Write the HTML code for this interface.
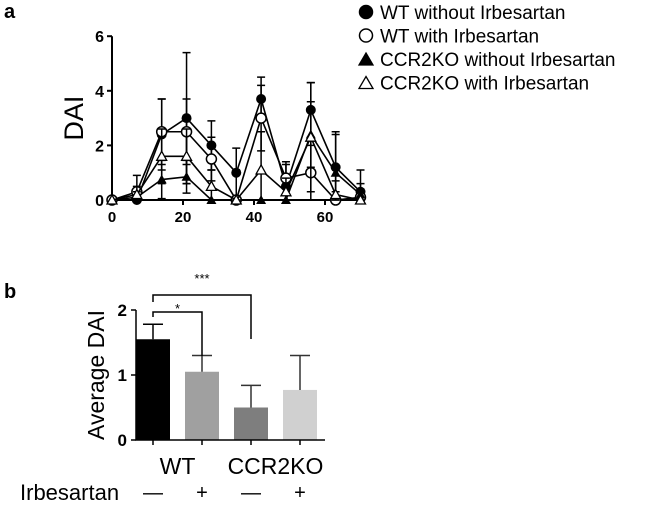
<!DOCTYPE html>
<html><head><meta charset="utf-8"><style>
body{margin:0;background:#fff;width:645px;height:506px;overflow:hidden}
svg{font-family:"Liberation Sans",Arial,sans-serif}
</style></head><body>
<svg id="fig" width="645" height="506" viewBox="0 0 645 506">
<text x="4" y="18" font-size="20" font-weight="bold">a</text>
<text x="4" y="298" font-size="20" font-weight="bold">b</text>
<g id="chartA"></g>
<g id="legend"></g>
<g id="chartB"></g>
</svg>
<script>
const days=[0,7,14,21,28,35,42,49,56,63,70];
const wtNo=[0,0,2.4,3.0,2.0,1.0,3.7,0.5,3.3,1.2,0.3];
const wtNoErr=[0,0.2,1.3,2.4,0.9,0.9,0.8,0.8,1.0,1.3,0.8];
const wtIrb=[0,0.3,2.5,2.5,1.5,0,3.0,0.8,1.0,0,0.1];
const wtIrbErr=[0,0.6,1.2,1.2,0.8,0,1.2,0.6,1.0,0.3,0.3];
const koNo=[0,0.1,0.75,0.85,0,0,0,0,2.4,1.0,0.2];
const koNoErr=[0,0.2,0.7,0.6,0,0,0,0,1.2,1.4,0.4];
const koIrb=[0,0.2,1.6,1.6,0.5,0,1.1,0.3,2.3,0.2,0];
const koIrbErr=[0,0.3,1.0,1.0,0.6,0,1.4,0.5,2.0,0.5,0];
const xTicksA=[0,20,40,60];
const yTicksA=[0,2,4,6];
const legendLabels=["WT without Irbesartan","WT with Irbesartan","CCR2KO without Irbesartan","CCR2KO with Irbesartan"];
const barCats=["wt-no","wt-irb","ko-no","ko-irb"];
const barVals=[1.55,1.05,0.5,0.77];
const barErrs=[0.23,0.25,0.34,0.53];
const barColors=["#000","#a0a0a0","#7e7e7e","#d0d0d0"];
const yTicksB=[0,1,2];
const NS="http://www.w3.org/2000/svg";
function mk(p,t,a){const e=document.createElementNS(NS,t);for(const k in a)e.setAttribute(k,a[k]);p.appendChild(e);return e;}
const A=document.getElementById('chartA');
const xA=d=>112+d*3.55, yA=v=>200-v*27.3;
let ax=mk(A,'path',{d:`M${xA(0)},${yA(6)}V${yA(0)}H${xA(70)}`,stroke:'#000','stroke-width':2,fill:'none'});

yTicksA.forEach(v=>{mk(A,'line',{x1:xA(0)-5,x2:xA(0),y1:yA(v),y2:yA(v),stroke:'#000','stroke-width':2});
 const t=mk(A,'text',{x:xA(0)-8,y:yA(v)+6,'font-size':16,'font-weight':'bold','text-anchor':'end'});t.textContent=v;
 });
xTicksA.forEach(v=>{mk(A,'line',{x1:xA(v),x2:xA(v),y1:yA(0),y2:yA(0)+5,stroke:'#000','stroke-width':2});
 const t=mk(A,'text',{x:xA(v),y:yA(0)+22,'font-size':15,'font-weight':'bold','text-anchor':'middle'});t.textContent=v;
 });
const yl=mk(A,'text',{x:0,y:0,'font-size':27,'text-anchor':'middle',transform:`translate(83,${yA(3)}) rotate(-90)`});yl.textContent='DAI';

function marker(g,type,x,y){
 if(type==0)mk(g,'circle',{cx:x,cy:y,r:5,fill:'#000'});
 else if(type==1)mk(g,'circle',{cx:x,cy:y,r:5,fill:'#fff',stroke:'#000','stroke-width':1.5});
 else if(type==2)mk(g,'path',{d:`M${x},${y-5}L${x+5},${y+4}L${x-5},${y+4}Z`,fill:'#000'});
 else mk(g,'path',{d:`M${x},${y-5}L${x+5},${y+4}L${x-5},${y+4}Z`,fill:'#fff',stroke:'#000','stroke-width':1.3});
}
const series=[[wtNo,wtNoErr],[wtIrb,wtIrbErr],[koNo,koNoErr],[koIrb,koIrbErr]];
const names=['series-wt-without','series-wt-with','series-ccr2ko-without','series-ccr2ko-with'];
series.forEach((s,i)=>{
 const g=mk(A,'g',{});
 
 days.forEach((d,j)=>{if(s[1][j]>0){const x=xA(d),y1=yA(s[0][j]),y2=yA(s[0][j]+s[1][j]),y3=yA(Math.max(0,s[0][j]-s[1][j]));
  mk(g,'path',{d:`M${x},${y3}V${y2}M${x-4},${y2}H${x+4}M${x-4},${y3}H${x+4}`,stroke:'#000','stroke-width':1.5,fill:'none'});}});
 mk(g,'polyline',{points:days.map((d,j)=>xA(d)+','+yA(s[0][j])).join(' '),fill:'none',stroke:'#000','stroke-width':1.6});
 days.forEach((d,j)=>marker(g,i,xA(d),yA(s[0][j])));
});
const L=document.getElementById('legend');
legendLabels.forEach((lab,i)=>{const y=12+i*23.5;const g=mk(L,'g',{});
 
 if(i<2)mk(g,'circle',{cx:366,cy:y,r:6.5,fill:i?'#fff':'#000',stroke:'#000','stroke-width':1.5});
 else mk(g,'path',{d:`M366,${y-6}L373,${y+6}L359,${y+6}Z`,fill:i==2?'#000':'#fff',stroke:'#000','stroke-width':1.3});
 const t=mk(g,'text',{x:380,y:y+7,'font-size':19});t.textContent=lab;});
const B=document.getElementById('chartB');
const xB=i=>153+i*49, yB=v=>440-v*65;
const bw=34;
barVals.forEach((v,i)=>{const r=mk(B,'rect',{x:xB(i)-bw/2,y:yB(v),width:bw,height:yB(0)-yB(v),fill:barColors[i]});
 
 const top=yB(v+barErrs[i]);
 mk(B,'path',{d:`M${xB(i)},${yB(v)}V${top}M${xB(i)-10},${top}H${xB(i)+10}`,stroke:barColors[i]=='#000'?'#000':'#333','stroke-width':1.5,fill:'none'});
 mk(B,'line',{x1:xB(i),x2:xB(i),y1:yB(0),y2:yB(0)+5,stroke:'#000','stroke-width':1.5});});
mk(B,'path',{d:`M136,${yB(2)}V${yB(0)}H325`,stroke:'#000','stroke-width':1.5,fill:'none'});
yTicksB.forEach(v=>{mk(B,'line',{x1:131,x2:136,y1:yB(v),y2:yB(v),stroke:'#000','stroke-width':1.5});
 const t=mk(B,'text',{x:127,y:yB(v)+6,'font-size':17,'font-weight':'bold','text-anchor':'end'});t.textContent=v;
 });
const ylb=mk(B,'text',{x:0,y:0,'font-size':23,'text-anchor':'middle',transform:`translate(104,${yB(1)}) rotate(-90)`});ylb.textContent='Average DAI';

mk(B,'path',{d:`M${xB(0)},302V295H${xB(2)}V339`,stroke:'#000','stroke-width':1.5,fill:'none'});
mk(B,'path',{d:`M${xB(0)},317V312H${xB(1)}V356`,stroke:'#000','stroke-width':1.5,fill:'none'});
let s1=mk(B,'text',{x:(xB(0)+xB(2))/2,y:283,'font-size':13,'text-anchor':'middle'});s1.textContent='***';
let s2=mk(B,'text',{x:(xB(0)+xB(1))/2,y:313,'font-size':13,'text-anchor':'middle'});s2.textContent='*';
[['WT',(xB(0)+xB(1))/2],['CCR2KO',(xB(2)+xB(3))/2]].forEach(([l,x])=>{const t=mk(B,'text',{x:x,y:474,'font-size':23,'text-anchor':'middle'});t.textContent=l;
 });
const ir=mk(B,'text',{x:20,y:500,'font-size':22});ir.textContent='Irbesartan';

['—','+','—','+'].forEach((s,i)=>{const t=mk(B,'text',{x:xB(i),y:499,'font-size':20,'text-anchor':'middle'});t.textContent=s;});
</script>
</body></html>
